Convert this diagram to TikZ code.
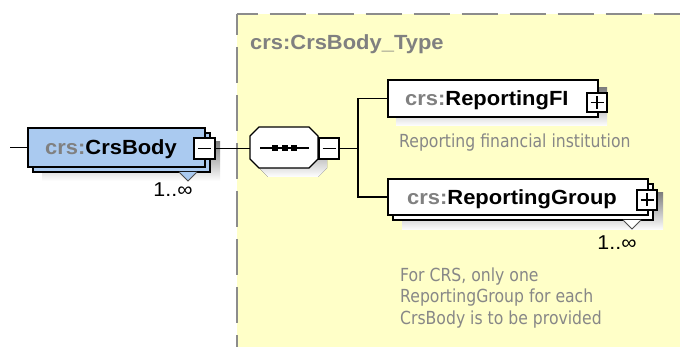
\documentclass[tikz,border=0pt]{standalone}
\usepackage{fontspec}
\usetikzlibrary{calc}
\setmainfont{Liberation Sans}
\newfontfamily\lblfont{Liberation Sans}[FakeStretch=1.07]
\newfontfamily\notefont{DejaVu Sans}[FakeStretch=0.87]
\definecolor{panel}{RGB}{255,255,200}
\definecolor{panelline}{RGB}{140,140,140}
\definecolor{shade}{RGB}{192,192,192}
\definecolor{bluefill}{RGB}{170,202,240}
\definecolor{prefix}{RGB}{128,128,128}
\definecolor{notegrey}{RGB}{135,135,135}
\begin{document}
\begin{tikzpicture}[x=1pt,y=-1pt,line join=miter,
  box/.style={draw=black,line width=1.4pt,inner sep=0pt},
  pmbox/.style={draw=black,fill=white,line width=1.2pt,inner sep=0pt},
  lbl/.style={inner sep=0pt,anchor=base west,font=\lblfont\bfseries\fontsize{20.5}{24}\selectfont},
  notetxt/.style={inner sep=0pt,anchor=base west,text=notegrey,font=\notefont\fontsize{18}{21.5}\selectfont},
  mult/.style={inner sep=0pt,anchor=base,font=\lblfont\fontsize{20}{24}\selectfont},
  conn/.style={line width=1.4pt},
  tri/.style={draw=black!70,line width=1pt},
  border/.style={panelline,line width=2pt,dash pattern=on 36pt off 12pt,dash phase=15pt}]
\useasboundingbox (0,0) rectangle (680,347);
\fill[white] (0,0) rectangle (680,347);
% panel
\fill[panel] (236.5,14) rectangle (680,347);
\draw[border] (236.5,14) -- (680,14);
\draw[border] (236.5,14) -- (236.5,347);
\node[lbl,text=prefix] (title) at (250,49.5) {crs:CrsBody\_Type};

% CrsBody element
\fill[shade] (42,142) rectangle (220,181);
\draw[box,fill=bluefill] (33,133) rectangle (210,172);
\fill[bluefill] (179,172) -- (188,181) -- (197,172) -- cycle;
\draw[tri] (179,172) -- (188,181) -- (197,172);
\node[box,fill=bluefill,minimum width=177pt,minimum height=39pt] (crs) at (116.5,147.5) {};
\node[lbl] (crslbl) at (45,155) {\textcolor{prefix}{crs:}CrsBody};
\node[pmbox,minimum width=21pt,minimum height=21pt] (crsm) at (204.5,148.5) {};
\draw[line width=1.2pt] ($(crsm.center)+(-6.5,0)$) -- ($(crsm.center)+(6.5,0)$);
\node[mult] (crsmult) at (173,197) {1..∞};
\coordinate (start) at (10,147.5);
\draw[conn] (start) -- (crs.west);

% sequence compositor
\fill[shade] (268,136) -- (318,136) -- (327,145) -- (327,168) -- (318,177) -- (268,177) -- (259,168) -- (259,145) -- cycle;
\node[inner sep=0pt,minimum width=68pt,minimum height=41pt] (seq) at (284,147.5) {};
\draw[line width=1.2pt,fill=white] (259,127) -- (309,127) -- (318,136) -- (318,159) -- (309,168) -- (259,168) -- (250,159) -- (250,136) -- cycle;
\draw[line width=1.3pt] (260,148) -- (309,148);
\foreach \cx in {275,284.5,294}{\fill[black] (\cx-3,145) rectangle (\cx+3,151);}
\node[pmbox,minimum width=20pt,minimum height=21pt] (seqm) at (329,148.5) {};
\draw[line width=1.2pt] ($(seqm.center)+(-6.5,0)$) -- ($(seqm.center)+(6.5,0)$);
\draw[conn] (crsm.east) -- (seq.west |- crsm.east);
\coordinate (junc) at (358,148.5);
\draw[conn] (seqm.east) -- (junc);

% ReportingFI
\fill[shade] (396,88) rectangle (607,126);
\node[box,fill=white,minimum width=210pt,minimum height=37pt] (fi) at (493,98.5) {};
\node[lbl] (filbl) at (405,106) {\textcolor{prefix}{crs:}ReportingFI};
\node[pmbox,minimum width=20pt,minimum height=19pt] (fip) at (597,102.5) {};
\draw[line width=1.2pt] ($(fip.center)+(-6.5,0)$) -- ($(fip.center)+(6.5,0)$);
\draw[line width=1.2pt] ($(fip.center)+(0,-6.5)$) -- ($(fip.center)+(0,6.5)$);
\node[notetxt] (finote) at (399,147.5) {Reporting financial institution};

% ReportingGroup
\fill[shade] (402,193) rectangle (663,230);
\draw[box,fill=white] (393,184) rectangle (653,220);
\fill[white] (623,220) -- (632,229) -- (641,220) -- cycle;
\draw[tri] (623,220) -- (632,229) -- (641,220);
\node[box,fill=white,minimum width=260pt,minimum height=36pt] (grp) at (518,197) {};
\node[lbl] (grplbl) at (407,204.5) {\textcolor{prefix}{crs:}ReportingGroup};
\node[pmbox,minimum width=20pt,minimum height=20pt] (grpp) at (647,200) {};
\draw[line width=1.2pt] ($(grpp.center)+(-6.5,0)$) -- ($(grpp.center)+(6.5,0)$);
\draw[line width=1.2pt] ($(grpp.center)+(0,-6.5)$) -- ($(grpp.center)+(0,6.5)$);
\node[mult] (grpmult) at (617,250) {1..∞};
\node[notetxt] (gn1) at (400,281.5) {For CRS, only one};
\node[notetxt] (gn2) at (400,303) {ReportingGroup for each};
\node[notetxt] (gn3) at (400,324.5) {CrsBody is to be provided};

% connectors from sequence
\draw[conn] (junc) |- (fi.west);
\draw[conn] (junc) |- (grp.west);
\end{tikzpicture}
\end{document}
